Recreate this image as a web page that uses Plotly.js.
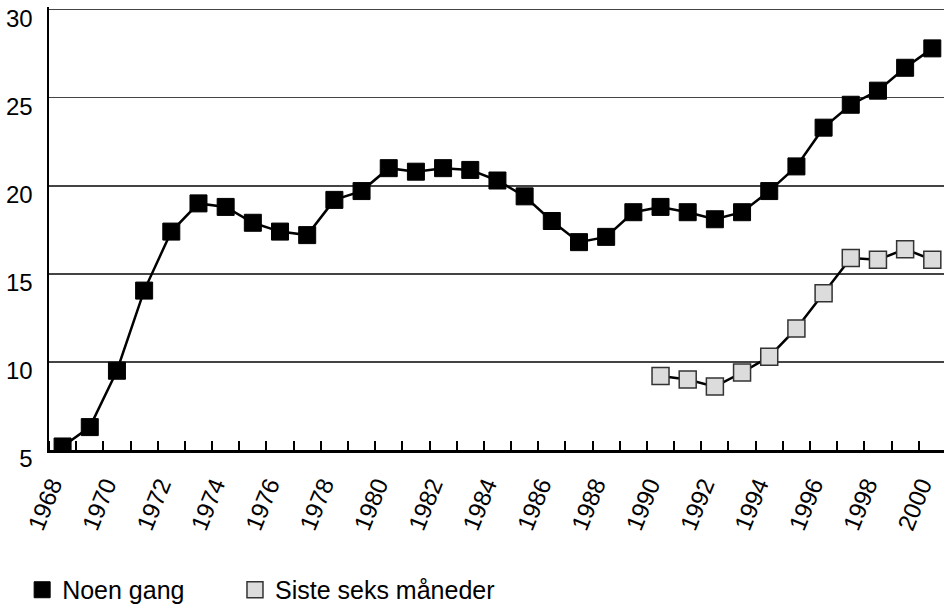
<!DOCTYPE html>
<html>
<head>
<meta charset="utf-8">
<script src="https://cdn.plot.ly/plotly-3.0.1.min.js"></script>
<style>html,body{margin:0;padding:0;background:#fff;}#chart{width:944px;height:605px;}</style>
</head>
<body>
<div id="chart"></div>
<script>
const years = [1968,1969,1970,1971,1972,1973,1974,1975,1976,1977,1978,1979,1980,1981,1982,1983,1984,1985,1986,1987,1988,1989,1990,1991,1992,1993,1994,1995,1996,1997,1998,1999,2000];
const noenGang = [5.2,6.3,9.5,14.05,17.4,19.0,18.8,17.9,17.4,17.2,19.2,19.7,21.0,20.8,21.0,20.9,20.3,19.4,18.0,16.8,17.1,18.5,18.8,18.5,18.1,18.5,19.7,21.1,23.3,24.6,25.4,26.7,27.8];
const sisteYears = [1990,1991,1992,1993,1994,1995,1996,1997,1998,1999,2000];
const sisteSeks = [9.2,9.0,8.6,9.4,10.3,11.9,13.9,15.9,15.8,16.4,15.8];
const xTickVals = [1968,1970,1972,1974,1976,1978,1980,1982,1984,1986,1988,1990,1992,1994,1996,1998,2000];
const xTickText = ["1968","1970","1972","1974","1976","1978","1980","1982","1984","1986","1988","1990","1992","1994","1996","1998","2000"];
const yTickVals = [5,10,15,20,25,30];
const names = ["Noen gang","Siste seks måneder"];

const boundaries = years.map(y => y - 0.5).concat([years[years.length-1] + 0.5]);

const FONT = "Liberation Sans, Arial, sans-serif";
const traces = [
  {x: years, y: noenGang, mode: "lines", line: {color: "#000", width: 2.5}, showlegend: false, hoverinfo: "skip"},
  {x: sisteYears, y: sisteSeks, mode: "lines", line: {color: "#000", width: 2.5}, showlegend: false, hoverinfo: "skip"},
  {x: years, y: noenGang, mode: "markers", name: names[0], legend: "legend",
   marker: {symbol: "square", size: 17, color: "#000", line: {color: "#000", width: 1}}},
  {x: sisteYears, y: sisteSeks, mode: "markers", name: names[1], legend: "legend2",
   marker: {symbol: "square", size: 17, color: "#dcdcdc", line: {color: "#333", width: 1.5}}}
];

const legendFont = {family: FONT, size: 25, color: "#000"};
const layout = {
  width: 944, height: 605,
  margin: {l: 49, r: 0, t: 7, b: 155, autoexpand: false},
  paper_bgcolor: "#fff", plot_bgcolor: "#fff",
  font: {family: FONT, color: "#000"},
  showlegend: true,
  legend: {orientation: "h", x: -0.03, xanchor: "left", y: -0.316, yanchor: "middle", font: legendFont},
  legend2: {orientation: "h", x: 0.2078, xanchor: "left", y: -0.316, yanchor: "middle", font: legendFont},
  xaxis: {
    type: "linear", range: [1967.5, 2000.43], automargin: false,
    showgrid: false, zeroline: false,
    showline: true, linecolor: "#000", linewidth: 2.5,
    tickmode: "array", tickvals: xTickVals, ticktext: xTickText,
    ticks: "", tickangle: -68, ticklabelstandoff: 9, ticklabelshift: -11, ticklabeloverflow: "allow",
    tickfont: {family: FONT, size: 24, color: "#000"},
    minor: {tickmode: "array", tickvals: boundaries, ticks: "inside", ticklen: 9, tickwidth: 2, tickcolor: "#000", showgrid: false}
  },
  yaxis: {
    range: [5, 30.15], automargin: false, showgrid: true, gridcolor: "#444", gridwidth: 1.5,
    zeroline: false, showline: true, linecolor: "#000", linewidth: 2.5,
    tickmode: "array", tickvals: yTickVals, ticks: "",
    ticklabelstandoff: 9, ticklabelshift: 9, ticklabeloverflow: "allow",
    tickfont: {family: FONT, size: 24, color: "#000"}
  }
};

Plotly.newPlot("chart", traces, layout, {displayModeBar: false, staticPlot: true});
</script>
</body>
</html>
